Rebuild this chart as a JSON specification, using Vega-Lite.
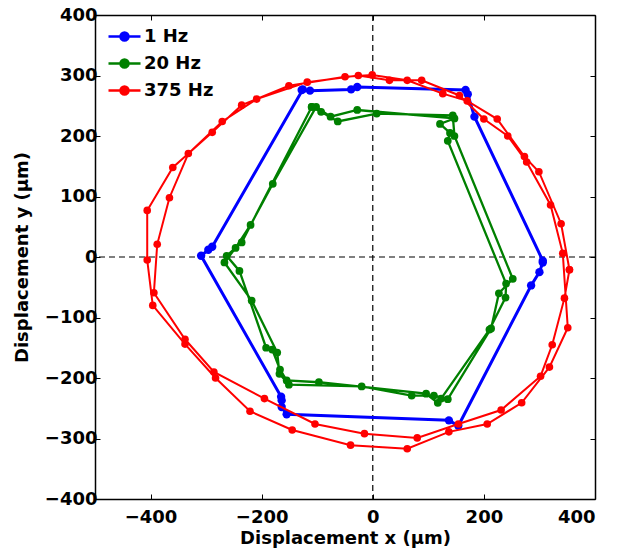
{
  "$schema": "https://vega.github.io/schema/vega-lite/v6.json",
  "width": 500,
  "height": 484,
  "autosize": {"type": "none"},
  "padding": {"left": 95, "top": 15, "right": 22, "bottom": 52},
  "background": "white",
  "datasets": {
    "zero": [{"v": 0}],
    "pts": [
      {"s": "1 Hz", "i": 1, "x": -128, "y": 276},
      {"s": "1 Hz", "i": 2, "x": -113, "y": 275},
      {"s": "1 Hz", "i": 3, "x": -39, "y": 277},
      {"s": "1 Hz", "i": 4, "x": -28, "y": 281},
      {"s": "1 Hz", "i": 5, "x": 167, "y": 276},
      {"s": "1 Hz", "i": 6, "x": 171, "y": 269},
      {"s": "1 Hz", "i": 7, "x": 183, "y": 232},
      {"s": "1 Hz", "i": 8, "x": 306, "y": -6},
      {"s": "1 Hz", "i": 9, "x": 306, "y": -9},
      {"s": "1 Hz", "i": 10, "x": 300, "y": -25},
      {"s": "1 Hz", "i": 11, "x": 285, "y": -47},
      {"s": "1 Hz", "i": 12, "x": 154, "y": -279},
      {"s": "1 Hz", "i": 13, "x": 137, "y": -270},
      {"s": "1 Hz", "i": 14, "x": -155, "y": -260},
      {"s": "1 Hz", "i": 15, "x": -164, "y": -248},
      {"s": "1 Hz", "i": 16, "x": -164, "y": -237},
      {"s": "1 Hz", "i": 17, "x": -165, "y": -231},
      {"s": "1 Hz", "i": 18, "x": -309, "y": 2},
      {"s": "1 Hz", "i": 19, "x": -296, "y": 12},
      {"s": "1 Hz", "i": 20, "x": -289, "y": 17},
      {"s": "1 Hz", "i": 21, "x": -126, "y": 277},

      {"s": "20 Hz", "i": 1, "x": -110, "y": 248},
      {"s": "20 Hz", "i": 2, "x": -93, "y": 240},
      {"s": "20 Hz", "i": 3, "x": -63, "y": 224},
      {"s": "20 Hz", "i": 4, "x": 7, "y": 237},
      {"s": "20 Hz", "i": 5, "x": 144, "y": 234},
      {"s": "20 Hz", "i": 6, "x": 147, "y": 200},
      {"s": "20 Hz", "i": 7, "x": 252, "y": -36},
      {"s": "20 Hz", "i": 8, "x": 227, "y": -60},
      {"s": "20 Hz", "i": 9, "x": 213, "y": -118},
      {"s": "20 Hz", "i": 10, "x": 135, "y": -235},
      {"s": "20 Hz", "i": 11, "x": 110, "y": -229},
      {"s": "20 Hz", "i": 12, "x": 70, "y": -229},
      {"s": "20 Hz", "i": 13, "x": -20, "y": -214},
      {"s": "20 Hz", "i": 14, "x": -151, "y": -211},
      {"s": "20 Hz", "i": 15, "x": -168, "y": -193},
      {"s": "20 Hz", "i": 16, "x": -172, "y": -158},
      {"s": "20 Hz", "i": 17, "x": -218, "y": -72},
      {"s": "20 Hz", "i": 18, "x": -267, "y": -9},
      {"s": "20 Hz", "i": 19, "x": -247, "y": 15},
      {"s": "20 Hz", "i": 20, "x": -220, "y": 53},
      {"s": "20 Hz", "i": 21, "x": -180, "y": 121},
      {"s": "20 Hz", "i": 22, "x": -102, "y": 248},
      {"s": "20 Hz", "i": 23, "x": -76, "y": 232},
      {"s": "20 Hz", "i": 24, "x": -28, "y": 243},
      {"s": "20 Hz", "i": 25, "x": 147, "y": 229},
      {"s": "20 Hz", "i": 26, "x": 121, "y": 220},
      {"s": "20 Hz", "i": 27, "x": 139, "y": 205},
      {"s": "20 Hz", "i": 28, "x": 135, "y": 192},
      {"s": "20 Hz", "i": 29, "x": 240, "y": -44},
      {"s": "20 Hz", "i": 30, "x": 239, "y": -67},
      {"s": "20 Hz", "i": 31, "x": 210, "y": -120},
      {"s": "20 Hz", "i": 32, "x": 123, "y": -234},
      {"s": "20 Hz", "i": 33, "x": 117, "y": -241},
      {"s": "20 Hz", "i": 34, "x": 96, "y": -226},
      {"s": "20 Hz", "i": 35, "x": -97, "y": -207},
      {"s": "20 Hz", "i": 36, "x": -155, "y": -204},
      {"s": "20 Hz", "i": 37, "x": -167, "y": -186},
      {"s": "20 Hz", "i": 38, "x": -181, "y": -153},
      {"s": "20 Hz", "i": 39, "x": -192, "y": -150},
      {"s": "20 Hz", "i": 40, "x": -240, "y": -23},
      {"s": "20 Hz", "i": 41, "x": -263, "y": 2},
      {"s": "20 Hz", "i": 42, "x": -236, "y": 24},
      {"s": "20 Hz", "i": 43, "x": -110, "y": 248},

      {"s": "375 Hz", "i": 1, "x": 354, "y": -21},
      {"s": "375 Hz", "i": 2, "x": 339, "y": 55},
      {"s": "375 Hz", "i": 3, "x": 299, "y": 141},
      {"s": "375 Hz", "i": 4, "x": 273, "y": 166},
      {"s": "375 Hz", "i": 5, "x": 224, "y": 228},
      {"s": "375 Hz", "i": 6, "x": 170, "y": 258},
      {"s": "375 Hz", "i": 7, "x": 126, "y": 270},
      {"s": "375 Hz", "i": 8, "x": 62, "y": 292},
      {"s": "375 Hz", "i": 9, "x": -1, "y": 301},
      {"s": "375 Hz", "i": 10, "x": -50, "y": 298},
      {"s": "375 Hz", "i": 11, "x": -151, "y": 283},
      {"s": "375 Hz", "i": 12, "x": -236, "y": 251},
      {"s": "375 Hz", "i": 13, "x": -289, "y": 206},
      {"s": "375 Hz", "i": 14, "x": -360, "y": 148},
      {"s": "375 Hz", "i": 15, "x": -406, "y": 77},
      {"s": "375 Hz", "i": 16, "x": -406, "y": -5},
      {"s": "375 Hz", "i": 17, "x": -396, "y": -80},
      {"s": "375 Hz", "i": 18, "x": -338, "y": -144},
      {"s": "375 Hz", "i": 19, "x": -283, "y": -200},
      {"s": "375 Hz", "i": 20, "x": -221, "y": -255},
      {"s": "375 Hz", "i": 21, "x": -145, "y": -286},
      {"s": "375 Hz", "i": 22, "x": -40, "y": -311},
      {"s": "375 Hz", "i": 23, "x": 62, "y": -317},
      {"s": "375 Hz", "i": 24, "x": 137, "y": -289},
      {"s": "375 Hz", "i": 25, "x": 206, "y": -276},
      {"s": "375 Hz", "i": 26, "x": 268, "y": -241},
      {"s": "375 Hz", "i": 27, "x": 318, "y": -182},
      {"s": "375 Hz", "i": 28, "x": 351, "y": -117},
      {"s": "375 Hz", "i": 29, "x": 342, "y": 6},
      {"s": "375 Hz", "i": 30, "x": 320, "y": 86},
      {"s": "375 Hz", "i": 31, "x": 277, "y": 157},
      {"s": "375 Hz", "i": 32, "x": 243, "y": 200},
      {"s": "375 Hz", "i": 33, "x": 200, "y": 228},
      {"s": "375 Hz", "i": 34, "x": 156, "y": 267},
      {"s": "375 Hz", "i": 35, "x": 88, "y": 292},
      {"s": "375 Hz", "i": 36, "x": 30, "y": 292},
      {"s": "375 Hz", "i": 37, "x": -26, "y": 300},
      {"s": "375 Hz", "i": 38, "x": -118, "y": 289},
      {"s": "375 Hz", "i": 39, "x": -209, "y": 261},
      {"s": "375 Hz", "i": 40, "x": -271, "y": 224},
      {"s": "375 Hz", "i": 41, "x": -332, "y": 171},
      {"s": "375 Hz", "i": 42, "x": -366, "y": 98},
      {"s": "375 Hz", "i": 43, "x": -388, "y": 21},
      {"s": "375 Hz", "i": 44, "x": -394, "y": -59},
      {"s": "375 Hz", "i": 45, "x": -338, "y": -136},
      {"s": "375 Hz", "i": 46, "x": -286, "y": -190},
      {"s": "375 Hz", "i": 47, "x": -195, "y": -234},
      {"s": "375 Hz", "i": 48, "x": -104, "y": -276},
      {"s": "375 Hz", "i": 49, "x": -15, "y": -292},
      {"s": "375 Hz", "i": 50, "x": 80, "y": -299},
      {"s": "375 Hz", "i": 51, "x": 154, "y": -276},
      {"s": "375 Hz", "i": 52, "x": 231, "y": -253},
      {"s": "375 Hz", "i": 53, "x": 302, "y": -197},
      {"s": "375 Hz", "i": 54, "x": 323, "y": -145},
      {"s": "375 Hz", "i": 55, "x": 345, "y": -68},
      {"s": "375 Hz", "i": 56, "x": 354, "y": -21}
    ]
  },
  "layer": [
    {
      "data": {"name": "zero"},
      "mark": {"type": "rule", "color": "#000", "strokeWidth": 1.2, "strokeDash": [6, 4]},
      "encoding": {
        "x": {"field": "v", "type": "quantitative",
              "scale": {"domain": [-500, 400], "nice": false, "zero": false},
              "axis": {"orient": "top", "labels": false, "title": null, "values": [-400, -200, 0, 200, 400]}}
      }
    },
    {
      "data": {"name": "zero"},
      "mark": {"type": "rule", "color": "#000", "strokeWidth": 1.2, "strokeDash": [6, 4]},
      "encoding": {
        "y": {"field": "v", "type": "quantitative",
              "scale": {"domain": [-400, 400], "nice": false, "zero": false},
              "axis": {"orient": "right", "labels": false, "title": null, "values": [-400, -300, -200, -100, 0, 100, 200, 300, 400]}}
      }
    },
    {
      "data": {"name": "pts"},
      "transform": [{"filter": "datum.s === '1 Hz'"}],
      "mark": {"type": "line", "strokeWidth": 3, "point": {"filled": true, "size": 70, "opacity": 1}},
      "encoding": {
        "x": {"field": "x", "type": "quantitative",
              "scale": {"domain": [-500, 400], "nice": false, "zero": false},
              "axis": {"orient": "bottom", "title": "Displacement x (μm)", "values": [-400, -200, 0, 200, 400], "labelPadding": 14, "titlePadding": 3}},
        "y": {"field": "y", "type": "quantitative",
              "scale": {"domain": [-400, 400], "nice": false, "zero": false},
              "axis": {"orient": "left", "title": "Displacement y (μm)", "values": [-400, -300, -200, -100, 0, 100, 200, 300, 400], "labelPadding": 3, "titlePadding": 13}},
        "order": {"field": "i", "type": "quantitative"},
        "color": {"field": "s", "type": "nominal",
                  "scale": {"domain": ["1 Hz", "20 Hz", "375 Hz"], "range": ["#0000ff", "#008000", "#ff0000"]},
                  "legend": {"orient": "none", "legendX": 12, "legendY": 4, "title": null, "padding": 0,
                             "symbolType": "M-1,0H1M0.25,0A0.25,0.25,0,1,1,-0.25,0A0.25,0.25,0,1,1,0.25,0Z",
                             "symbolSize": 1024, "symbolStrokeWidth": 2.5, "symbolOpacity": 1,
                             "labelFont": "DejaVu Sans", "labelFontWeight": "bold", "labelFontSize": 18, "labelColor": "#000",
                             "labelOffset": 2, "rowPadding": 0,
                             "encode": {"symbols": {"update": {"fill": {"scale": "color", "field": "value"}, "stroke": {"scale": "color", "field": "value"}}}}}}
      }
    },
    {
      "data": {"name": "pts"},
      "transform": [{"filter": "datum.s === '20 Hz'"}],
      "mark": {"type": "line", "strokeWidth": 2.3, "point": {"filled": true, "size": 60, "opacity": 1}},
      "encoding": {
        "x": {"field": "x", "type": "quantitative", "scale": {"domain": [-500, 400], "nice": false, "zero": false}, "axis": null},
        "y": {"field": "y", "type": "quantitative", "scale": {"domain": [-400, 400], "nice": false, "zero": false}, "axis": null},
        "order": {"field": "i", "type": "quantitative"},
        "color": {"field": "s", "type": "nominal"}
      }
    },
    {
      "data": {"name": "pts"},
      "transform": [{"filter": "datum.s === '375 Hz'"}],
      "mark": {"type": "line", "strokeWidth": 2, "point": {"filled": true, "size": 58, "opacity": 1}},
      "encoding": {
        "x": {"field": "x", "type": "quantitative", "scale": {"domain": [-500, 400], "nice": false, "zero": false}, "axis": null},
        "y": {"field": "y", "type": "quantitative", "scale": {"domain": [-400, 400], "nice": false, "zero": false}, "axis": null},
        "order": {"field": "i", "type": "quantitative"},
        "color": {"field": "s", "type": "nominal"}
      }
    }
  ],
  "resolve": {"axis": {"x": "independent", "y": "independent"}},
  "config": {
    "view": {"stroke": null},
    "font": "DejaVu Sans",
    "axis": {
      "grid": false,
      "labelFont": "DejaVu Sans", "labelFontWeight": "bold", "labelFontSize": 18, "labelColor": "#000",
      "titleFont": "DejaVu Sans", "titleFontWeight": "bold", "titleFontSize": 18, "titleColor": "#000",
      "domainColor": "#000", "domainWidth": 1.5,
      "tickColor": "#000", "tickWidth": 1, "tickSize": -5
    }
  }
}
